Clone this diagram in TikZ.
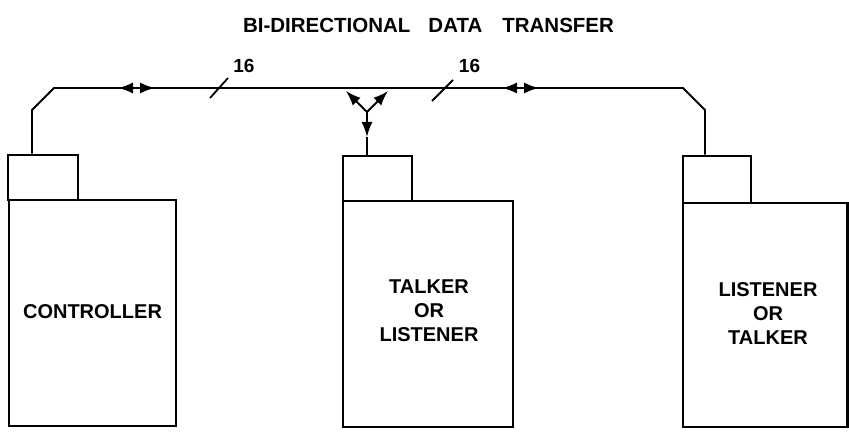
\documentclass[tikz,border=0pt]{standalone}
\usepackage{fontspec}
\setmainfont{Liberation Sans}
\usetikzlibrary{arrows.meta}
\begin{document}
\begin{tikzpicture}[x=1pt,y=-1pt,
  box/.style={draw, line width=2.6pt, rectangle, inner sep=0pt},
  txt/.style={align=center, inner sep=0pt, font=\bfseries\fontsize{20}{24}\selectfont},
  bus/.style={line width=1.8pt},
  tipline/.style={line width=1.8pt, -{Latex[length=15pt,width=11pt]}},
  lbl/.style={font=\bfseries\fontsize{19}{22}\selectfont, inner sep=0pt, anchor=base}]
\useasboundingbox (0,0) rectangle (849,435);

% title
\node[font=\bfseries\fontsize{20.5}{24}\selectfont, anchor=base, inner sep=0pt] (title) at (428.5,33)
  {BI-DIRECTIONAL\hspace{18pt}DATA\hspace{20pt}TRANSFER};

% boxes
\node[box, minimum width=167pt, minimum height=226pt] (ctl) at (92.5,313) {};
\node[box, minimum width=70pt, minimum height=45pt] (ctlp) at (43,177.5) {};
\node[box, minimum width=170pt, minimum height=226pt] (tlk) at (428,314) {};
\node[box, minimum width=69pt, minimum height=45pt] (tlkp) at (377.5,178.5) {};
\node[box, minimum width=164.5pt, minimum height=224pt] (lst) at (765.25,315) {};
\node[box, minimum width=68pt, minimum height=47pt] (lstp) at (717,179.5) {};

% box texts
\node[txt] (ctlt) at (92.5,312) {CONTROLLER};
\node[txt] (tlkt) at (429,311) {TALKER\\OR\\LISTENER};
\node[txt] (lstt) at (768,314) {LISTENER\\OR\\TALKER};

% bus coordinates
\coordinate (l1) at (32,110);
\coordinate (l2) at (54,88);
\coordinate (r2) at (683,88);
\coordinate (r1) at (705,110);
\draw[bus] (ctlp.north -| l1) -- (l1) -- (l2) -- (r2) -- (r1) -- (lstp.north -| r1);

% bidirectional arrows on bus
\coordinate (am1) at (136.5,88);
\coordinate (al1) at (118,88);
\coordinate (ar1) at (155,88);
\draw[tipline] (am1) -- (al1);
\draw[tipline] (am1) -- (ar1);
\coordinate (am2) at (520.5,88);
\coordinate (al2) at (502,88);
\coordinate (ar2) at (539,88);
\draw[tipline] (am2) -- (al2);
\draw[tipline] (am2) -- (ar2);

% Y junction
\coordinate (yj) at (367,112);
\coordinate (ya) at (346,91);
\coordinate (yb) at (388,91);
\coordinate (yd) at (367,137);
\draw[tipline] (yj) -- (ya);
\draw[tipline] (yj) -- (yb);
\draw[tipline] (yj) -- (yd);
\draw[bus] (yd) -- (tlkp.north -| yd);

% slashes and widths
\coordinate (s1a) at (210,98);
\coordinate (s1b) at (228,78);
\draw[bus] (s1a) -- (s1b);
\coordinate (s2a) at (432,101);
\coordinate (s2b) at (453,80);
\draw[bus] (s2a) -- (s2b);
\node[lbl] (w1) at (244,73) {16};
\node[lbl] (w2) at (469.5,73) {16};
\end{tikzpicture}
\end{document}
